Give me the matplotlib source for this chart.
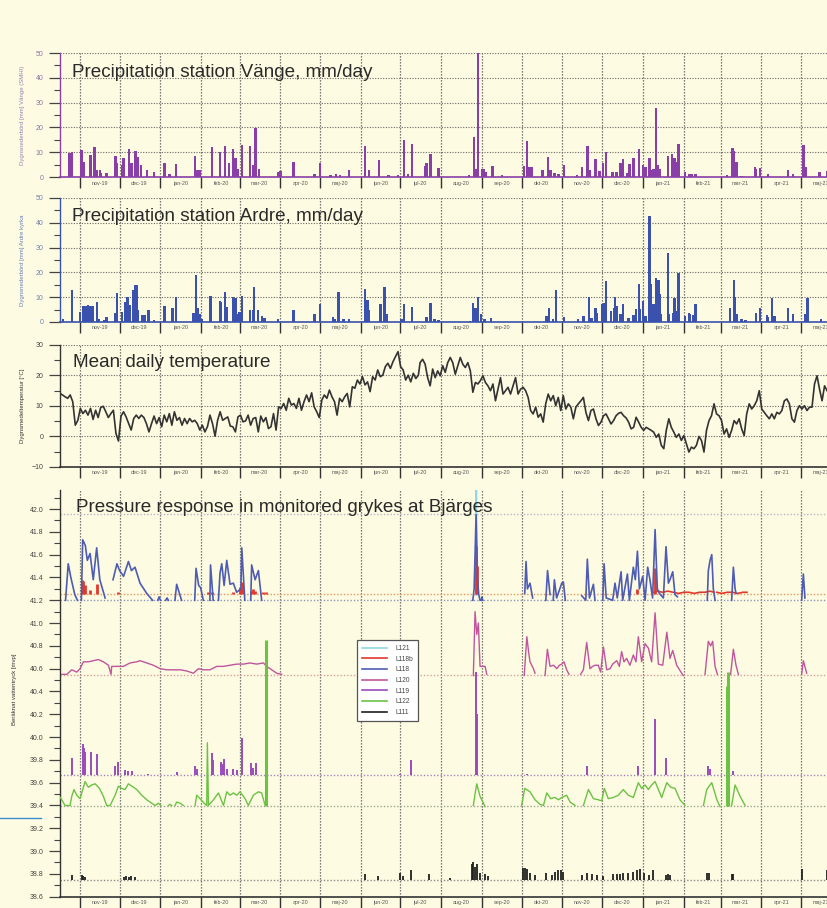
import numpy as np
import pandas as pd
import matplotlib

matplotlib.use("Agg")
import matplotlib.pyplot as plt
from matplotlib.lines import Line2D

plt.rcParams["font.family"] = ["Liberation Sans", "DejaVu Sans"]

BASE = pd.Timestamp("2019-11-01")  # day 0 of every day offset below
X_LEFT, X_RIGHT = -15.2, 567.5

SV_MONTHS = ["jan", "feb", "mar", "apr", "maj", "jun",
             "jul", "aug", "sep", "okt", "nov", "dec"]

# daily precipitation Vänge (SMHI): (day offset, mm)
vange = [(-15, 2.7), (-8, 9.6), (-6, 10), (1, 11), (3, 6), (8, 9), (11, 12),
         (13, 3), (15, 3), (16, 1.5), (20, 1.5), (27, 8.5), (28, 5.5), (32, 4.8),
         (33, 7.5), (37, 11.2), (39, 5.5), (42, 10.5), (44, 8), (46, 4.8),
         (51, 2.7), (56, 2), (64, 5.8), (68, 1.4), (73, 5.2), (87, 8.5), (89, 2.7),
         (91, 3), (100, 12), (106, 10), (110, 12.6), (113, 5.5), (116, 11.2),
         (118, 7.5), (120, 3.4), (123, 13), (129, 12.6), (131, 4.8), (133, 19.8),
         (136, 3.4), (150, 2), (152, 2.3), (162, 6.2), (178, 1.4), (182, 5.8),
         (190, 1), (194, 1.2), (197, 1), (204, 2.7), (216, 12.6), (219, 2.7),
         (227, 6.8), (234, 0.7), (241, 1), (246, 15), (249, 1.4), (252, 13.4),
         (262, 4.4), (263, 5.5), (266, 9.3), (272, 3.7), (295, 0.7), (299, 16.2),
         (300, 3.4), (302, 50), (305, 3.4), (306, 3.4), (308, 2), (313, 4.4),
         (320, 0.7), (337, 4.4), (339, 14.4), (341, 4.1), (343, 4.1), (351, 2.7),
         (355, 8), (357, 2.7), (360, 1.6), (363, 1.4), (367, 4.8), (377, 0.7),
         (381, 4.1), (385, 12.6), (387, 2.7), (391, 7.3), (394, 2.5), (397, 5.5),
         (399, 10.3), (404, 2), (407, 2), (410, 5.5), (412, 7.1), (415, 1.6),
         (417, 5.2), (420, 7.5), (424, 11.2), (427, 4.8), (429, 4.1), (432, 7.5),
         (434, 3), (435, 3.4), (437, 28), (438, 4.8), (440, 3.4), (446, 8.5),
         (449, 9.3), (451, 7.5), (452, 6), (454, 13.4), (459, 2), (462, 1.4),
         (464, 1.4), (467, 1.4), (491, 0.7), (495, 11.6), (496, 10.7), (498, 6.2),
         (502, 0.5), (512, 4.1), (513, 3.4), (516, 3.7), (522, 1.1), (537, 3),
         (541, 1.4), (549, 13), (551, 4.1), (561, 2), (567, 2.3)]

# daily precipitation Ardre kyrka: (day offset, mm)
ardre = [(-15, 1.4), (-13, 1.4), (-6, 12.8), (0, 4), (2, 6.4), (4, 6.4), (6, 6.8),
         (8, 6.4), (10, 6.4), (13, 8.1), (14, 1.4), (18, 0.7), (20, 2), (27, 3.6),
         (28, 11.5), (32, 4), (34, 8.1), (36, 9.9), (38, 6.8), (40, 12.8),
         (42, 14.9), (43, 15.1), (44, 4.7), (47, 2.7), (49, 2.7), (52, 4.7),
         (56, 0.7), (64, 6.4), (70, 5.8), (73, 9.9), (86, 3.6), (88, 18.9),
         (89, 5.8), (91, 3.4), (92, 1.4), (99, 10.4), (106, 8.5), (107, 8.1),
         (110, 11.9), (111, 6.1), (116, 9.9), (118, 9.5), (119, 3.4), (121, 4),
         (123, 10.4), (129, 4.7), (131, 4.7), (132, 13.9), (135, 4.7), (138, 2.3),
         (140, 1.8), (150, 1), (162, 5), (178, 3.1), (182, 7.4), (192, 2),
         (193, 1.4), (196, 12), (200, 1), (204, 1.4), (216, 13.4), (218, 8.8),
         (219, 5), (228, 7.4), (231, 13.9), (233, 3.1), (244, 1.4), (246, 7.2),
         (252, 6.1), (263, 2), (266, 7.5), (269, 1), (272, 0.7), (296, 0.4),
         (298, 7.5), (300, 5.8), (302, 10.2), (304, 3.1), (307, 1), (312, 1.8),
         (354, 2.4), (356, 5.6), (359, 1), (361, 12.9), (367, 2.2), (378, 1),
         (382, 2.4), (386, 9.9), (388, 1.5), (391, 5.6), (392, 3.8), (396, 7.2),
         (398, 7.5), (399, 16.4), (403, 4.5), (405, 5.6), (406, 9.9), (407, 6.5),
         (410, 3.1), (412, 7.2), (416, 1.8), (420, 2.9), (422, 5.2), (424, 15.4),
         (425, 5.2), (427, 8.6), (429, 2.4), (432, 42.8), (433, 15.4), (435, 7.2),
         (437, 17.8), (438, 17), (439, 17), (440, 11.3), (441, 3.1), (446, 28),
         (447, 3.1), (450, 3.8), (451, 9.6), (452, 4.5), (454, 19.7), (459, 2.4),
         (462, 3.8), (463, 3.1), (465, 2.9), (467, 7.2), (493, 5.6), (496, 17),
         (497, 10.2), (498, 3.1), (502, 1), (505, 0.7), (513, 3.8), (516, 5.8),
         (521, 2.9), (522, 2), (525, 9.6), (527, 2.4), (537, 5.8), (541, 3.1),
         (550, 3.1), (552, 9.6), (562, 1)]

# mean daily temperature, read every ~2 days; first run 16 Oct 2019 - 4 Jul 2020,
# second run 5 Jul 2020 - 20 May 2021
temp_a = [14.1, 13.6, 13, 12.5, 13.6, 11.4, 3.7, 5.3, 9.2, 7.5,
          8.6, 7, 9.2, 5.6, 8.6, 6.2, 9.5, 9.9, 8.1, 6.2,
          7.5, 8.6, 1, -1.5, 6.7, 8.1, 6.4, 4.2, 2.1, 5.9,
          7, 5.9, 7, 6.2, 4.2, 1.5, 4.2, 6.7, 4.2, 6.2,
          3.2, 7, 4.8, 7.5, 3.7, 8.1, 5.3, 6.2, 3.7, 5.9,
          4.2, 5.9, 4.8, 5.3, 4.2, 2.1, 3.7, 1.5, 3.2, 7,
          4.2, 0.1, 5.3, 8.1, 5.3, 5.9, 6.4, 3.4, 3.2, 1.5,
          6.4, 7, 4.8, 5.1, 7, 3.7, 5.9, 6.2, 1.5, 6.7,
          4.8, 6.2, 2.6, 3.2, 7.5, 2.1, 9.7, 9.2, 10.8, 8.6,
          12.5, 10.3, 10.8, 9.2, 12.5, 8.6, 11.4, 13.6, 11.4, 14.3,
          9.7, 8.1, 6.2, 11.9, 13.6, 12.5, 15.2, 13, 11.4, 7,
          12.5, 11.4, 13, 14.1, 9.7, 16.3, 15.8, 18.5, 17.2, 19.6,
          16.9, 17.9, 14.7, 19.6, 18.5, 21.8, 19.6, 20.1, 22.9, 24,
          22.3, 24.5, 26.2, 27.8, 22.9, 21.8, 18.5, 20.1, 17.9, 20.7,
          19, 20.1]
temp_b = [24.2, 25.3, 23.7, 19.3, 16.6, 22.1, 19.3, 21.5, 19.9, 23.2,
          21, 24.2, 25.9, 24.2, 20.4, 23.2, 25.9, 23.7, 22.6, 24.2,
          21.5, 14.5, 17.7, 17.2, 18.3, 19.9, 17.7, 16.6, 15, 17.2,
          11.7, 15.5, 19.3, 13.9, 15, 16.1, 13.9, 16.6, 19.3, 13.9,
          15.5, 16.1, 15, 12.8, 8.5, 7.4, 9.6, 6.3, 7.4, 4.7,
          10.7, 13.9, 11.7, 13.4, 10.1, 12.8, 8.5, 13.4, 9, 10.7,
          9.6, 5.8, 9.6, 10.7, 11.7, 12.8, 7.9, 5.2, 8.5, 9,
          5.8, 3.6, 4.7, 6.8, 7.4, 5.8, 4.1, 5.2, 6.8, 7.6,
          7.9, 6.8, 6.1, 4.7, 2.5, 3, 6.3, 4.7, 3, 2,
          3, 2.5, 2, 1.4, -0.3, 0.8, -2.9, -4, 2, 5.8,
          3, 1.4, -0.3, 0.8, -1.3, 0.3, -2.4, -5.1, -3.5, -4,
          -2.9, 0, -1.3, -5.1, 2, 5.2, 6.8, 10.7, 7.4, 6.8,
          5.2, 0.8, 2.5, -0.3, 2, 5.2, 4.1, 5.8, 2.5, 0.3,
          7.4, 10.7, 9, 10.1, 11.7, 15, 9, 7.9, 6.8, 5.8,
          7.4, 5.8, 7.9, 7.4, 8.5, 11.7, 12.3, 10.7, 5.8, 4.7,
          8.5, 10.1, 9, 10.1, 8.5, 9.6, 9.6, 17.2, 19.9, 15.5,
          11.7, 16.6, 15]
temp_a_span = (-15.2, 256.7)
temp_b_span = (258.0, 566.8)

# pressure loggers [mvp]: (day offset, value), None = no data
l121 = [(300.3, 41.25), (300.6, 42.17), (300.9, 41.25)]
l118 = [(-11, 41.2), (-9, 41.52), (-7, 41.4), (-4, 41.25), (-2, 41.2), None,
        (1, 41.2), (2, 41.73), (4, 41.68), (5.5, 41.55), (7.6, 41.61), (10, 41.38),
        (12.6, 41.66), (15, 41.38), (19, 41.22), None,
        (25, 41.38), (28, 41.52), (30, 41.46), (33, 41.41), (36.7, 41.54),
        (39, 41.46), (41.7, 41.49), (45.5, 41.35), (50.6, 41.26), (55, 41.2), None,
        (59, 41.2), (60, 41.23), (61, 41.2), None, (65, 41.2), (66, 41.22), (67, 41.2), None,
        (72, 41.2), (73.3, 41.34), (77, 41.2), None,
        (87, 41.2), (88, 41.48), (90, 41.33), (91.5, 41.31), (93.5, 41.2), None,
        (98.5, 41.2), (99, 41.51), (101, 41.2), None,
        (105, 41.2), (106.2, 41.44), (107.5, 41.52), (109.3, 41.33), (111.3, 41.55),
        (113.8, 41.34), (116.3, 41.35), (118.8, 41.27), (122, 41.3), (122.7, 41.66),
        (125, 41.2), None,
        (129.5, 41.2), (130.2, 41.51), (132.8, 41.38), (135.3, 41.46), (137.8, 41.2), None,
        (298, 41.2), (299, 41.3), (300.5, 41.95), (301.5, 41.4), (302.5, 41.25),
        (303.5, 41.2), None, (304.5, 41.2), (305, 41.23), (305.5, 41.2), None,
        (337.4, 41.26), (338.4, 41.54), (339.4, 41.3), (341.4, 41.35), (343.4, 41.22), None,
        (353.4, 41.2), (354.7, 41.46), (356.6, 41.25), None,
        (359, 41.2), (359.9, 41.38), (361.6, 41.22), (365.5, 41.35), (366.7, 41.36),
        (368.2, 41.2), None,
        (380.6, 41.24), (383.7, 41.2), (384.9, 41.56), (386.5, 41.22), (389.5, 41.34),
        (390.7, 41.2), None,
        (396.6, 41.2), (397.6, 41.52), (399.2, 41.22), (404.1, 41.2), (405.9, 41.35),
        (407.6, 41.22), (410.5, 41.45), (411.7, 41.2), (415.3, 41.43), (416.8, 41.2),
        (419.8, 41.49), (421.3, 41.38), (422.9, 41.63), (424.4, 41.3), (426.9, 41.41),
        (428.7, 41.2), (430.7, 41.49), (432.4, 41.38), (434.4, 41.22), (436.3, 41.82),
        (438, 41.3), (439.6, 41.26), (442.6, 41.22), (444.6, 41.67), (446.4, 41.35),
        (447.6, 41.38), (449.7, 41.45), (451.4, 41.25), (453.2, 41.23), None,
        (475.9, 41.2), (476.7, 41.46), (478, 41.55), (479.3, 41.6), (480.5, 41.3),
        (481.8, 41.2), None,
        (494.4, 41.2), (495.7, 41.49), (497, 41.3), (497.7, 41.26), None,
        (547.5, 41.2), (548.8, 41.43), (550, 41.22)]
l118b_spikes = [(1.5, 41.38), (2.5, 41.37), (3.5, 41.33), (7.6, 41.29), (12.6, 41.34),
                (29, 41.27), (97, 41.27), (100, 41.27), (116, 41.27), (121.5, 41.32),
                (122.7, 41.36), (130, 41.28), (131.5, 41.3), (133, 41.28), (139, 41.27),
                (141, 41.27), (300.2, 41.68), (300.8, 41.5), (422.4, 41.3), (436.3, 41.48)]
l118b_line = [(435, 41.27), (438, 41.28), (442, 41.27), (446, 41.28), (450, 41.27),
              (454, 41.26), (458, 41.27), (462, 41.27), (466, 41.26), (470, 41.27),
              (474, 41.27), (478, 41.28), (481, 41.27), None, (483, 41.27), (487, 41.26),
              (491, 41.27), (495, 41.27), (499, 41.26), (503, 41.27), (506, 41.27)]
l120 = [(-13.9, 40.55), (-10.1, 40.55), (-6.3, 40.59), (-2.5, 40.57), (0, 40.6),
        (2.5, 40.66), (6.3, 40.66), (10.1, 40.67), (13.9, 40.68), (17.7, 40.66),
        (21.5, 40.63), (23.5, 40.55), (24, 40.62), (27.8, 40.62), (32.9, 40.62),
        (37.9, 40.65), (43, 40.66), (45.5, 40.67), (50.6, 40.65), (55.6, 40.63),
        (60.7, 40.6), (65.8, 40.59), (70.8, 40.59), (75.9, 40.59), (80.9, 40.58),
        (86, 40.56), (89.8, 40.6), (93.6, 40.59), (98.6, 40.59), (103.7, 40.62),
        (108.8, 40.62), (113.8, 40.63), (118.9, 40.64), (123.9, 40.64), (129, 40.65),
        (134, 40.64), (139.1, 40.65), (141.6, 40.62), (145.4, 40.59), (149.2, 40.56),
        (153, 40.55), None,
        (298.4, 40.54), (299.7, 41.1), (301, 40.9), (302.2, 41.0), (303.5, 40.62),
        (304.7, 40.62), (307.3, 40.62), (308.6, 40.55), None,
        (337, 40.54), (339, 40.88), (340.3, 40.75), (341.4, 40.66), (344, 40.6),
        (345.2, 40.56), None,
        (352.8, 40.54), (354.6, 40.77), (356.6, 40.62), (359.2, 40.63), (361.7, 40.6),
        (363.7, 40.63), (365.5, 40.64), (367.2, 40.66), (369.2, 40.59), (371, 40.55), None,
        (379.8, 40.55), (381.9, 40.59), (384.4, 40.83), (386.9, 40.6), (388.9, 40.62),
        (390.7, 40.63), (393.2, 40.63), (395, 40.57), (397.1, 40.79), (399.6, 40.59),
        (402.1, 40.6), (404.1, 40.64), (407.2, 40.67), (409.2, 40.62), (410.9, 40.75),
        (412.7, 40.66), (414.7, 40.69), (417.2, 40.63), (419.8, 40.72), (421.8, 40.66),
        (423.6, 40.88), (426.1, 40.66), (428.7, 40.82), (431.2, 40.78), (433.7, 40.66),
        (436.3, 41.09), (438.8, 40.64), (442.1, 40.63), (445.2, 40.92), (447.6, 40.69),
        (449.7, 40.76), (452.7, 40.63), (456.5, 40.56), (457.7, 40.54), None,
        (474.2, 40.55), (476.7, 40.84), (478.5, 40.8), (480, 40.84), (481.8, 40.62),
        (483.6, 40.55), None,
        (493.6, 40.55), (495.7, 40.77), (497.7, 40.63), (499.5, 40.55), None,
        (547.5, 40.55), (548.8, 40.67), (551.3, 40.56)]
l119_spikes = [(-6.3, 39.82), (2, 39.94), (3, 39.9), (3.8, 39.87), (8.1, 39.87),
               (12.6, 39.85), (26.6, 39.75), (29.1, 39.78), (34.1, 39.71), (36.7, 39.7),
               (39.2, 39.7), (51.8, 39.68), (73.8, 39.69), (87.3, 39.75), (88.5, 39.72),
               (99.9, 39.86), (101.2, 39.8), (106.7, 39.78), (108.2, 39.76), (109.3, 39.81),
               (111.3, 39.72), (116.3, 39.72), (118.9, 39.71), (122.7, 39.99), (129.5, 39.77),
               (131, 39.73), (133.5, 39.77), (242.8, 39.68), (250.9, 39.8), (300.5, 40.57),
               (301.5, 40.2), (338.9, 39.68), (384.4, 39.75), (423.6, 39.75), (436.3, 40.16),
               (444.6, 39.82), (476.7, 39.75), (478, 39.72), (495.7, 39.7)]
l122 = [(-15.7, 39.48), (-13.9, 39.45), (-11.4, 39.4), (-7.6, 39.4), (-6.3, 39.48),
        (-4.6, 39.54), (-2.5, 39.49), (0, 39.46), (3.8, 39.61), (6.3, 39.56),
        (8.9, 39.58), (11.4, 39.59), (14.7, 39.55), (17.7, 39.48), (20.2, 39.4),
        (22.8, 39.4), (26.6, 39.49), (29.1, 39.57), (31.6, 39.55), (34.1, 39.54),
        (36.7, 39.59), (39.2, 39.57), (43, 39.54), (46.8, 39.49), (50.6, 39.45),
        (54.4, 39.42), (56.9, 39.4), (59.4, 39.42), (61.2, 39.4), None,
        (67, 39.4), (68.3, 39.41), (69.5, 39.4), None,
        (72.1, 39.4), (73.3, 39.43), (75.9, 39.42), (78.4, 39.4), None,
        (87.3, 39.4), (88.5, 39.49), (91, 39.46), (94.1, 39.42), (96.1, 39.4),
        (96.6, 39.95), (97.4, 39.4), (101.2, 39.45), (105, 39.51), (108.8, 39.4),
        (111.3, 39.52), (113.8, 39.49), (116.3, 39.51), (118.9, 39.49), (121.4, 39.52),
        (125.2, 39.46), (127.7, 39.4), (131.5, 39.49), (135.3, 39.52), (137.8, 39.51),
        (140.4, 39.4), None,
        (298.4, 39.4), (299.7, 39.5), (301, 39.59), (303.5, 39.48), (307.3, 39.39), None,
        (335, 39.4), (337.4, 39.55), (341.4, 39.52), (345.2, 39.45), (349, 39.41),
        (351.6, 39.4), (354.1, 39.51), (357.1, 39.46), (360.4, 39.47), (363, 39.45),
        (365.5, 39.47), (369.2, 39.49), (371.8, 39.43), (375.6, 39.4), None,
        (381.9, 39.4), (385.7, 39.54), (389.5, 39.46), (393.3, 39.45), (395.8, 39.44),
        (397.8, 39.55), (400.8, 39.46), (404.6, 39.47), (408.4, 39.49), (412.2, 39.54),
        (416, 39.49), (419.8, 39.47), (423.6, 39.6), (426.1, 39.55), (428.7, 39.58),
        (431.2, 39.54), (433.7, 39.58), (436.3, 39.61), (438.8, 39.54), (441.3, 39.47),
        (445.2, 39.6), (448.2, 39.56), (451.4, 39.55), (455.2, 39.45), (459, 39.4), None,
        (473, 39.4), (475.5, 39.54), (479.3, 39.6), (483.2, 39.45), (485.6, 39.39), None,
        (494.4, 39.4), (497, 39.58), (500.8, 39.48), (504.6, 39.4)]
l122_jumps = [(140.8, 40.85), (490.7, 40.45), (491.9, 40.57)]
l111_spikes = [(-6.3, 38.79), (1.3, 38.79), (2.5, 38.78), (3.5, 38.77), (33, 38.77),
               (35, 38.78), (37, 38.77), (39, 38.78), (42, 38.77), (216, 38.8),
               (226, 38.78), (243, 38.81), (245, 38.78), (251, 38.83), (265, 38.8),
               (280.7, 38.76), (297.2, 38.89), (298.4, 38.9), (299.7, 38.86), (301, 38.89),
               (303.5, 38.81), (307.3, 38.8), (309.8, 38.78), (336.4, 38.85), (337.6, 38.85),
               (338.9, 38.84), (341.4, 38.81), (345.2, 38.79), (353.6, 38.81), (357.9, 38.79),
               (360.4, 38.82), (363, 38.83), (364.7, 38.83), (366.7, 38.82), (380.6, 38.79),
               (384.4, 38.81), (388.2, 38.8), (392, 38.79), (397, 38.78), (404.6, 38.8),
               (407.2, 38.8), (409.7, 38.8), (412.2, 38.81), (416, 38.81), (419.8, 38.82),
               (422.4, 38.83), (424.9, 38.84), (427.9, 38.81), (431.9, 38.79), (435, 38.83),
               (444.6, 38.79), (446.4, 38.8), (447.6, 38.79), (475.5, 38.81), (477.5, 38.81),
               (494.4, 38.8), (495.7, 38.8), (547.5, 38.84), (566.5, 38.83)]

# reference (zero) levels of the loggers
ref_levels = [(41.96, "#b8b8c8"), (41.255, "#e8955a"), (41.205, "#8e98b8"),
              (40.545, "#d8a0a0"), (39.665, "#a884c0"), (39.395, "#9aa890"),
              (38.745, "#8a8a8a")]

BG = "#fdfbe1"
C_VANGE = "#8a3fa8"
C_ARDRE = "#3a52ae"
C_L121 = "#8fd6e8"
C_L118B = "#e2382c"
C_L118 = "#4e5cb4"
C_L120 = "#c0559e"
C_L119 = "#9a4cbc"
C_L122 = "#6cc244"
C_L111 = "#202020"


def unzip(points):
    days = [np.nan if p is None else p[0] for p in points]
    vals = [np.nan if p is None else p[1] for p in points]
    return np.array(days, dtype=float), np.array(vals, dtype=float)


def style_axis(ax, spine_color, label_color, hgrid=True):
    ax.set_facecolor(BG)
    ax.set_xlim(X_LEFT, X_RIGHT)
    for side in ("top", "right"):
        ax.spines[side].set_visible(False)
    ax.spines["left"].set_color(spine_color)
    ax.spines["left"].set_linewidth(1.0)
    ax.spines["bottom"].set_color(spine_color)
    ax.spines["bottom"].set_linewidth(1.2)

    months = pd.date_range("2019-11-01", "2021-05-01", freq="MS")
    starts = [(m - BASE).days for m in months]
    mids = [(m - BASE).days + 15 for m in months]
    labels = [f"{SV_MONTHS[m.month - 1]}-{m.year % 100:02d}" for m in months]
    ax.set_xticks(starts)
    ax.set_xticklabels([])
    ax.set_xticks(mids, minor=True)
    ax.set_xticklabels(labels, minor=True)
    ax.tick_params(axis="x", which="major", direction="out", length=8,
                   width=1.0, color="#333333")
    ax.tick_params(axis="x", which="minor", length=0, pad=2.5,
                   labelsize=3.9, labelcolor="#555555")
    ax.tick_params(axis="y", which="major", direction="out", length=8,
                   width=0.9, color="#444444", labelsize=5.0,
                   labelcolor=label_color, pad=4)
    ax.tick_params(axis="y", which="minor", direction="out", length=4,
                   width=0.8, color="#444444")
    ax.grid(True, which="major", axis="x", linestyle=(0, (1, 1.4)),
            color="#555555", linewidth=0.9)
    if hgrid:
        ax.grid(True, which="major", axis="y", linestyle=(0, (1, 1.4)),
                color="#666666", linewidth=0.8)
    ax.set_axisbelow(True)


fig = plt.figure(figsize=(8.28, 9.08), dpi=100, facecolor=BG)
LEFT, WIDTH = 0.0725, 0.9275

# precipitation Vänge
ax1 = fig.add_axes([LEFT, 0.805, WIDTH, 0.1366])
style_axis(ax1, C_VANGE, "#8a74a8")
d, v = unzip(vange)
ax1.bar(d, v, width=1.8, color=C_VANGE, linewidth=0)
ax1.set_ylim(0, 50)
ax1.set_yticks(range(0, 51, 10))
ax1.set_yticks(range(5, 50, 10), minor=True)
ax1.set_ylabel("Dygnsnederbörd [mm] Vänge (SMHI)", fontsize=4.3, color="#9a80b8")
ax1.yaxis.set_label_coords(-0.046, 0.5)

# precipitation Ardre
ax2 = fig.add_axes([LEFT, 0.6454, WIDTH, 0.1366])
style_axis(ax2, C_ARDRE, "#7080b0")
d, v = unzip(ardre)
ax2.bar(d, v, width=1.8, color=C_ARDRE, linewidth=0)
ax2.set_ylim(0, 50)
ax2.set_yticks(range(0, 51, 10))
ax2.set_yticks(range(5, 50, 10), minor=True)
ax2.set_ylabel("Dygnsnederbörd [mm] Ardre kyrka", fontsize=4.3, color="#6a7cc0")
ax2.yaxis.set_label_coords(-0.046, 0.5)

# mean daily temperature
ax3 = fig.add_axes([LEFT, 0.4857, WIDTH, 0.1344])
style_axis(ax3, "#333333", "#444444")
temp_days = np.concatenate([np.linspace(*temp_a_span, len(temp_a)),
                            np.linspace(*temp_b_span, len(temp_b))])
ax3.plot(temp_days, temp_a + temp_b, color="#333333", linewidth=1.2)
ax3.set_ylim(-10, 30)
ax3.set_yticks(range(-10, 31, 10))
ax3.set_yticks(range(-5, 30, 10), minor=True)
ax3.set_ylabel("Dygnsmedeltemperatur [°C]", fontsize=4.3, color="#333333")
ax3.yaxis.set_label_coords(-0.046, 0.5)

# pressure response
ax4 = fig.add_axes([LEFT, 0.01245, WIDTH, 0.4479])
style_axis(ax4, "#333333", "#444444", hgrid=False)
ax4.set_ylim(38.6, 42.167)
ax4.set_yticks(np.round(np.arange(38.6, 42.01, 0.2), 1))
ax4.set_yticks(np.round(np.arange(38.7, 42.11, 0.2), 1), minor=True)
ax4.yaxis.set_major_formatter(matplotlib.ticker.FormatStrFormatter("%.1f"))
for level, col in ref_levels:
    ax4.axhline(level, color=col, linestyle=(0, (1, 1.4)), linewidth=1.0, zorder=1)

d, v = unzip(l121)
ax4.plot(d, v, color=C_L121, linewidth=1.3, zorder=3)
d, v = unzip(l118b_spikes)
ax4.vlines(d, 41.255, v, color=C_L118B, linewidth=2.0, zorder=3)
d, v = unzip(l118b_line)
ax4.plot(d, v, color=C_L118B, linewidth=1.2, zorder=3)
d, v = unzip(l118)
ax4.plot(d, v, color=C_L118, linewidth=1.2, zorder=4)
d, v = unzip(l120)
ax4.plot(d, v, color=C_L120, linewidth=1.0, zorder=3)
d, v = unzip(l119_spikes)
ax4.vlines(d, 39.665, v, color=C_L119, linewidth=1.4, zorder=3)
d, v = unzip(l122)
ax4.plot(d, v, color=C_L122, linewidth=1.0, zorder=3)
d, v = unzip(l122_jumps)
ax4.vlines(d, 39.395, v, color=C_L122, linewidth=2.2, zorder=3)
d, v = unzip(l111_spikes)
ax4.vlines(d, 38.745, v, color=C_L111, linewidth=1.3, zorder=3)
ax4.set_ylabel("Beräknat vattentryck [mvp]", fontsize=4.3, color="#333333")
ax4.yaxis.set_label_coords(-0.056, 0.51)

handles = [Line2D([], [], color=c, linewidth=1.2) for c in
           (C_L121, C_L118B, C_L118, C_L120, C_L119, C_L122, C_L111)]
names = ["L121", "L118b", "L118", "L120", "L119", "L122", "L111"]
leg = ax4.legend(handles, names, loc="upper left",
                 bbox_to_anchor=(354 / 828, 1 - 637 / 908),
                 bbox_transform=fig.transFigure, fontsize=4.8, frameon=True,
                 fancybox=False, edgecolor="#555555", facecolor="white",
                 framealpha=1, handlelength=3.8, labelspacing=0.55,
                 borderpad=0.7, handletextpad=1.2)
leg.get_frame().set_linewidth(0.9)
for t in leg.get_texts():
    t.set_color("#444444")

title_kw = dict(fontsize=13.6, color="#2a2a2a", va="center", ha="left")
fig.text(0.087, 0.9207, "Precipitation station Vänge, mm/day", **title_kw)
fig.text(0.087, 0.7621, "Precipitation station Ardre, mm/day", **title_kw)
fig.text(0.088, 0.6013, "Mean daily temperature", **title_kw)
fig.text(0.092, 0.4416, "Pressure response in monitored grykes at Bjärges", **title_kw)

fig.add_artist(Line2D([0, 0.05], [1 - 818 / 908] * 2, color="#3d8fd2",
                      linewidth=1.0, transform=fig.transFigure))

fig.savefig("out.png", dpi=100, facecolor=BG)
